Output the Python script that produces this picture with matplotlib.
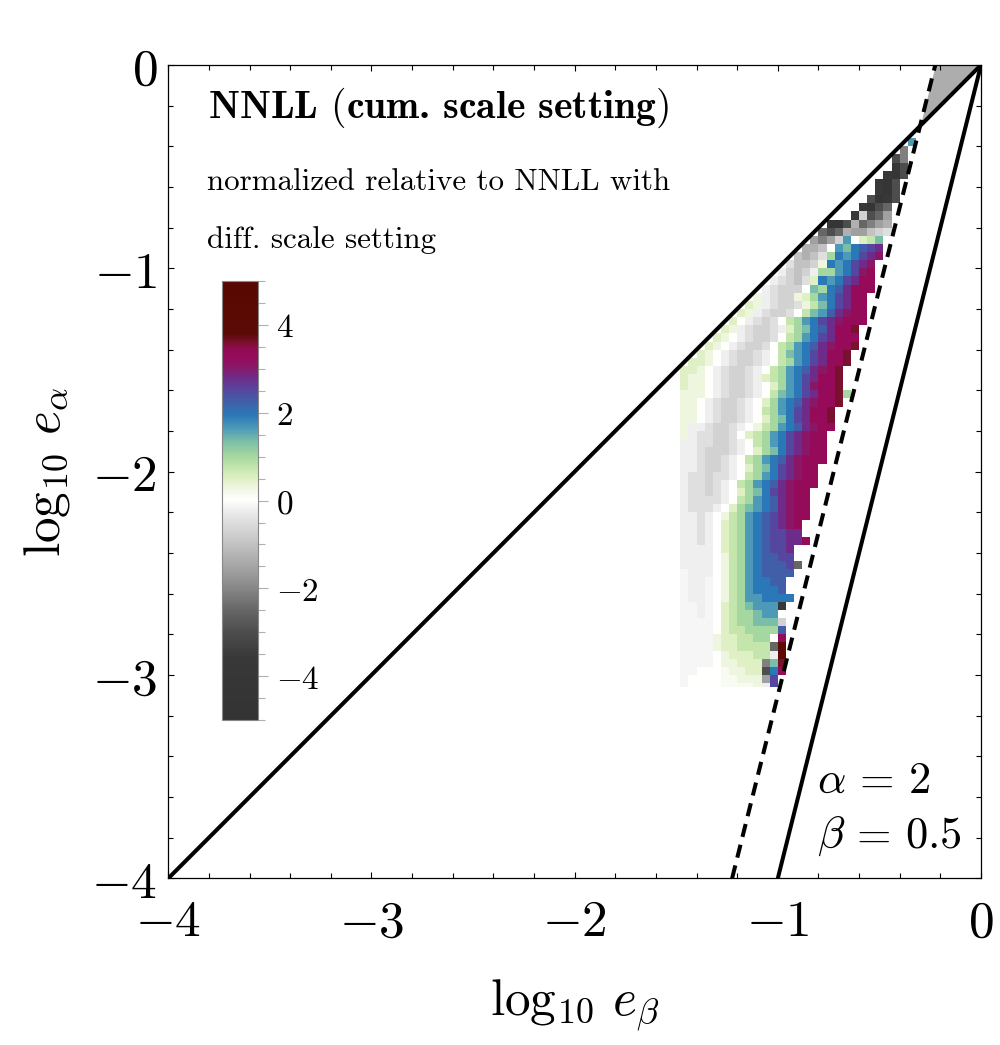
import numpy as np
import matplotlib.pyplot as plt
from matplotlib.colors import LinearSegmentedColormap, Normalize
from matplotlib.cm import ScalarMappable
from matplotlib.ticker import MultipleLocator

plt.rcParams['mathtext.fontset'] = 'cm'
plt.rcParams['font.family'] = 'DejaVu Serif'

# colour scale (value -> colour)
CMAP_VALUES = [-5.0, -3.6, -3.0, -2.5, -2.1, -1.6, -1.3, -1.0, -0.7, -0.45, -0.2, 0.0,
               0.15, 0.3, 0.5, 0.75, 1.0, 1.35, 1.65, 1.95, 2.25, 2.5, 2.8, 3.05,
               3.3, 3.45, 3.6, 3.8, 5.0]
CMAP_COLORS = ['#333333', '#383838', '#4d4d4d', '#666666', '#808080', '#a0a0a0', '#b0b0b0',
               '#c2c2c2', '#d2d2d2', '#e0e0e0', '#efefef', '#ffffff',
               '#f8fbf2', '#eef6e0', '#dff0c4', '#c4e6ac', '#a6d8a0', '#7cbea8', '#4c9ab8',
               '#2a78b8', '#4060a8', '#5448a0', '#6e2c8a', '#881866',
               '#960a5a', '#920a54', '#7a1030', '#5c0a06', '#580800']

# cell codes used below -> plotted value
LEVEL_CODES = "KJIHGFEDCBAZ.zabcdefghijklmn"
LEVEL_VALUES = [-4.5, -3.6, -3.0, -2.5, -2.1, -1.6, -1.3, -1.0, -0.7, -0.45, -0.2, -0.1, 0.0,
                0.15, 0.3, 0.5, 0.75, 1.0, 1.35, 1.65, 1.95, 2.25, 2.5, 2.8, 3.05, 3.3, 3.6, 4.3]

# grid of the density plot (log10 e_beta, log10 e_alpha)
X_FIRST, N_COLS = -1.48, 29
Y_FIRST, Y_BOTTOM = -0.36, -3.06
CELL = 0.04

# first column of each row, then the cells of that row (top row first)
ROW_START = [28, 27, 26, 26, 25, 24, 24, 23, 22, 21, 18, 17, 16, 15, 14, 13, 12, 11, 10, 9,
             8, 7, 6, 5, 4, 3, 2, 1] + [0] * 40
ROW_CELLS = [
    "f", "G", "IG", "JI", "JKI", "JKI", "JKI", "IKJI", "JKIH", "JCIHF",
    "KKIEHGFE",
    "HIHEFFDCB",
    "FGFCf.bce",
    "EED.feghij",
    "DEDBdgfgijk",
    "BDDCagfgijk",
    "ACDCAddfgikl",
    "ABCDBbgfgijll",
    "ABCCC.edghjlll",
    "aABCCabdfgijll",
    "baABCCBacegijll",
    "baABCCB.cefhjkll",
    "b.ABCB.cdfgijklll",
    "baABCCBAbdeghjllm",
    "ba.ABCCB.cdfgijlll",
    "ba.ABCCB.cdfghjkllm",
    "ba.ABCCBA.cefgijllm",
    "bba.ABCCBA.cdfgijllm",
    "bba.ABCCBA.cdfghjklm",
    "baa.ABCCBAbcdfgijllm",
    "baa.ABCCBA.bdfgikllm",
    "aaa.ABCCBA.cefgijllmd",
    "aa.ABCCBA.bdfghjkllm",
    "aa.ABCCBA.cdfgijllm",
    "aa.ABCCBA.bdegijllm",
    "aAABCCBA.acdfghjkll",
    "aABBCCB.bcdfgijkll",
    "AABBCCBA.cdfgijkll",
    "AABCCCBA.bdegijkll",
    "AABCCBA.cdfghjklll",
    "AABCCBA.bdegijkll",
    "ABBCBBA.cdfgijkll",
    "ABBCBA.cdfghjklll",
    "ABBCBA.bdegijkll",
    "ABBBBA.cdfghjkll",
    "ABBBA.bdefghjkll",
    "AABA.acdfghijkll",
    "AABA.bcdfghijkl",
    "AABA.bcdfghiijj",
    "AABA.bcdfghiijjl",
    "AAAA.bcdfghiij",
    "AAAA.acdfghhii",
    "AAAA.acdfghhhiH",
    "ZAAA.acdfghhhh",
    "ZAAZ.acdfgghh",
    "ZAAZ.acdfgggh",
    "ZAAZ.acdffgggg",
    "ZZAZ.bcdefffJ",
    "ZZAZ.bcddeff.",
    "ZZZZ.bcddeeeC",
    "ZZZZ.bccddddh",
    "ZZZZabbccdd.l",
    "ZZZZabbccccHn",
    "ZZZZ.abbbccAn",
    "ZZZZ.aabbbGem",
    "ZZ...zaabbIgl",
    "Z....zzaaaFi",
    "Z....zzzzaAi",
]

DASH_OFFSET = 0.9   # dashed line: log e_alpha = 4 log e_beta + 0.9
STEEP_SLOPE = 4.0   # solid line: log e_alpha = 4 log e_beta

# build the value grid
n_rows = len(ROW_CELLS)
grid = np.full((n_rows, N_COLS), np.nan)
for r, (start, cells) in enumerate(zip(ROW_START, ROW_CELLS)):
    for k, ch in enumerate(cells):
        if ch != ' ':
            grid[r, start + k] = LEVEL_VALUES[LEVEL_CODES.index(ch)]

x_edges = X_FIRST + CELL * np.arange(N_COLS + 1)
y_edges = Y_FIRST - CELL * np.arange(n_rows + 1)
y_edges[-1] = max(y_edges[-1], Y_BOTTOM)

pos = [(v + 5) / 10 for v in CMAP_VALUES]
cmap = LinearSegmentedColormap.from_list('nnll', list(zip(pos, CMAP_COLORS)), N=512)
norm = Normalize(-5, 5)

fig = plt.figure(figsize=(10, 10.45), dpi=100)
ax = fig.add_axes([0.1683, 0.1595, 0.8127, 0.7783])

ax.pcolormesh(x_edges, y_edges, grid, cmap=cmap, norm=norm, shading='flat',
              antialiased=False, edgecolors='none', zorder=1)

# grey wedge between the dashed line and the diagonal near the origin
y_cross = -DASH_OFFSET / 3
yy = np.linspace(y_cross, 0, 60)
ax.fill_betweenx(yy, (yy - DASH_OFFSET) / STEEP_SLOPE, yy, color='#adadad', lw=0, zorder=1)

lw = 2.9
ax.plot([-4, 0], [-4, 0], color='k', lw=lw, solid_capstyle='butt', zorder=3)
ys = np.array([-4.0, 0.0])
ax.plot(ys / STEEP_SLOPE, ys, color='k', lw=lw, solid_capstyle='butt', zorder=3)
ax.plot((ys - DASH_OFFSET) / STEEP_SLOPE, ys, color='k', lw=lw, dashes=(3.3, 2.0),
        dash_capstyle='butt', zorder=3)

ax.set_xlim(-4, 0)
ax.set_ylim(-4, 0)

ticks = [-4, -3, -2, -1, 0]
labels = [r'$%d$' % t for t in ticks]
ax.set_xticks(ticks, labels)
ax.set_yticks(ticks, labels)
ax.xaxis.set_minor_locator(MultipleLocator(0.2))
ax.yaxis.set_minor_locator(MultipleLocator(0.2))
ax.tick_params(which='both', direction='in', top=True, right=True, width=0.8, labelsize=37)
ax.tick_params(which='major', length=4.5, pad=14)
ax.tick_params(which='minor', length=3.5)
ax.tick_params(axis='y', which='major', pad=8)
for sp in ax.spines.values():
    sp.set_linewidth(0.9)

ax.set_xlabel(r'$\log_{10}\,e_\beta$', fontsize=37, labelpad=22)
ax.set_ylabel(r'$\log_{10}\,e_\alpha$', fontsize=37, labelpad=14)

ax.text(0.049, 0.935, r'NNLL $($cum. scale setting$)$', transform=ax.transAxes,
        fontfamily='cmb10', fontsize=28.5, va='baseline', ha='left')
ax.text(0.048, 0.846, 'normalized relative to NNLL with', transform=ax.transAxes,
        fontfamily='cmr10', fontsize=22.3, va='baseline', ha='left')
ax.text(0.048, 0.775, 'diff. scale setting', transform=ax.transAxes,
        fontfamily='cmr10', fontsize=22.3, va='baseline', ha='left')
ax.text(0.798, 0.105, r'$\alpha\,=\,2$', transform=ax.transAxes, fontsize=32, va='baseline')
ax.text(0.798, 0.037, r'$\beta\,=\,0.5$', transform=ax.transAxes, fontsize=32, va='baseline')

# colour bar
cax = fig.add_axes([0.222, 0.311, 0.036, 0.420])
cb = fig.colorbar(ScalarMappable(norm=norm, cmap=cmap), cax=cax)
cb.outline.set_edgecolor('#888888')
cb.outline.set_linewidth(0.8)
cb_ticks = [-4, -2, 0, 2, 4]
cb.set_ticks(cb_ticks, labels=[r'$%d$' % t for t in cb_ticks])
cax.yaxis.set_minor_locator(MultipleLocator(0.5))
cax.tick_params(which='both', direction='out', color='#b0b0b0', width=0.8, labelsize=24)
cax.tick_params(which='major', length=7, pad=6)
cax.tick_params(which='minor', length=5)

fig.savefig('out.png', dpi=100)
